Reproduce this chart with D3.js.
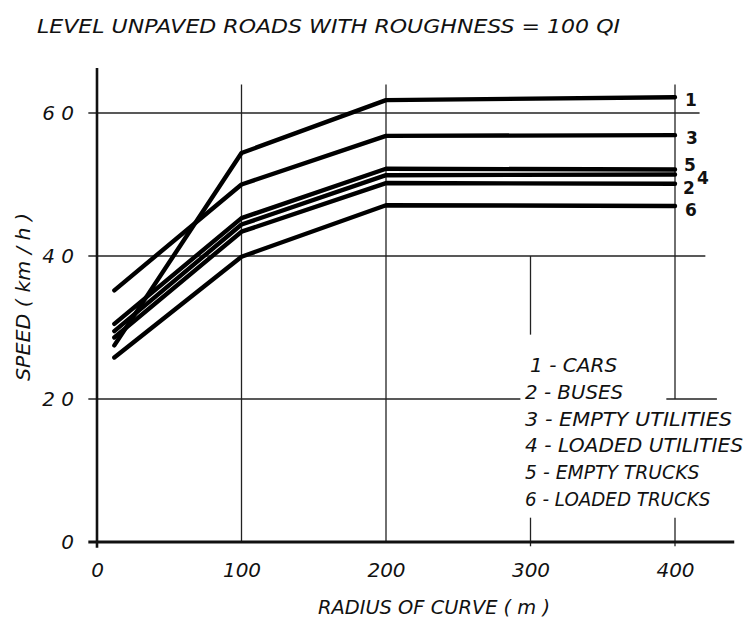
<!DOCTYPE html>
<html>
<head>
<meta charset="utf-8">
<script src="https://cdn.jsdelivr.net/npm/d3@7"></script>
<style>
  body { margin: 0; background: #fff; }
  text { font-family: "DejaVu Sans", sans-serif; fill: #111; }
</style>
</head>
<body>
<svg id="chart" width="750" height="620"></svg>
<script>
'use strict';

// radius of curve (m) where the curves were read
const radii = [12, 100, 200, 400];

// speed (km/h) per vehicle class
const cars = [27.5, 54.4, 61.8, 62.2];
const buses = [28.6, 43.4, 50.2, 50.1];
const emptyUtilities = [35.2, 50.0, 56.8, 56.9];
const loadedUtilities = [29.5, 44.4, 51.3, 51.4];
const emptyTrucks = [30.5, 45.3, 52.2, 52.1];
const loadedTrucks = [25.8, 39.9, 47.1, 47.0];

const seriesIds = ['1', '2', '3', '4', '5', '6'];
const legendLabels = ['1 - CARS', '2 - BUSES', '3 - EMPTY UTILITIES', '4 - LOADED UTILITIES', '5 - EMPTY TRUCKS', '6 - LOADED TRUCKS'];

const xTicks = [0, 100, 200, 300, 400];
const yTicks = [0, 20, 40, 60];

const series = [cars, buses, emptyUtilities, loadedUtilities, emptyTrucks, loadedTrucks];

const svg = d3.select('#chart');
const x = d3.scaleLinear().domain([0, 400]).range([97, 675]);
const y = d3.scaleLinear().domain([0, 60]).range([542, 113]);

// grid pieces, in data units: the original is hand drawn and broken by the legend
const hGrid = [
  { v: 60, from: -6, to: 417 },
  { v: 40, from: -6, to: 421 },
  { v: 20, from: -6, to: 293 },
  { v: 20, from: 394, to: 429 }
];
const vGrid = [
  { v: 100, from: 0, to: 64 },
  { v: 200, from: 0, to: 64 },
  { v: 300, from: 29, to: 40 },
  { v: 300, from: -0.6, to: 3.4 },
  { v: 400, from: 20, to: 64 },
  { v: 400, from: -0.6, to: 3.4 }
];

const grid = svg.append('g').attr('stroke', '#222').attr('stroke-width', 1.3);
grid.selectAll('.h').data(hGrid).join('line')
  .attr('x1', d => x(d.from)).attr('x2', d => x(d.to))
  .attr('y1', d => y(d.v)).attr('y2', d => y(d.v));
grid.selectAll('.v').data(vGrid).join('line')
  .attr('x1', d => x(d.v)).attr('x2', d => x(d.v))
  .attr('y1', d => y(d.from)).attr('y2', d => y(d.to));

// main axes lines
svg.append('line')
  .attr('x1', x(-6)).attr('x2', x(441)).attr('y1', y(0)).attr('y2', y(0))
  .attr('stroke', '#111').attr('stroke-width', 2.8);
svg.append('line')
  .attr('x1', x(0)).attr('x2', x(0)).attr('y1', y(-0.8)).attr('y2', y(66.3))
  .attr('stroke', '#111').attr('stroke-width', 2.6);

// tick labels through d3 axes
const xAxis = svg.append('g')
  .attr('transform', `translate(0,${y(0) + 18})`)
  .call(d3.axisBottom(x).tickValues(xTicks).tickSize(0).tickFormat(d3.format('d')));
xAxis.select('.domain').remove();
xAxis.selectAll('text')
  .attr('font-size', 20).attr('font-style', 'italic')
  .style('font-family', '"DejaVu Sans", sans-serif').attr('fill', '#111');

const yAxis = svg.append('g')
  .attr('transform', `translate(${x(0) - 20},0)`)
  .call(d3.axisLeft(y).tickValues(yTicks).tickSize(0).tickFormat(d => d === 0 ? '0' : String(d).split('').join(' ')));
yAxis.select('.domain').remove();
yAxis.selectAll('text')
  .attr('font-size', 20).attr('font-style', 'italic')
  .style('font-family', '"DejaVu Sans", sans-serif').attr('fill', '#111');

// curves
const line = d3.line().x((d, i) => x(radii[i])).y(d => y(d));
svg.append('g').selectAll('path').data(series).join('path')
  .attr('d', line)
  .attr('fill', 'none')
  .attr('stroke', '#000')
  .attr('stroke-width', 4.4)
  .attr('stroke-linejoin', 'round')
  .attr('stroke-linecap', 'round');

// curve numbers at the right end
const labelOffsets = { '1': [10, 9], '2': [8, 10], '3': [11, 9], '4': [22, 10], '5': [9, 2], '6': [10, 10] };
svg.append('g').selectAll('text').data(series).join('text')
  .attr('x', (d, i) => x(400) + labelOffsets[seriesIds[i]][0])
  .attr('y', (d, i) => y(d[d.length - 1]) + labelOffsets[seriesIds[i]][1])
  .attr('font-size', 17).attr('font-weight', 'bold')
  .text((d, i) => seriesIds[i]);

// legend
const legend = svg.append('g');
legend.selectAll('text').data(legendLabels).join('text')
  .attr('x', (d, i) => i === 0 ? 530 : 525)
  .attr('y', (d, i) => 372 + i * 26.8)
  .attr('font-size', 20).attr('font-style', 'italic')
  .attr('textLength', d => d.length * 10.9)
  .attr('lengthAdjust', 'spacingAndGlyphs')
  .text(d => d);

// titles
svg.append('text')
  .attr('x', 37).attr('y', 33)
  .attr('font-size', 20).attr('font-style', 'italic')
  .attr('textLength', 583).attr('lengthAdjust', 'spacingAndGlyphs')
  .text('LEVEL  UNPAVED  ROADS  WITH  ROUGHNESS =  100 QI');

svg.append('text')
  .attr('x', 318).attr('y', 614)
  .attr('font-size', 20).attr('font-style', 'italic')
  .attr('textLength', 232).attr('lengthAdjust', 'spacingAndGlyphs')
  .text('RADIUS OF CURVE ( m )');

svg.append('text')
  .attr('transform', 'translate(30,381) rotate(-90)')
  .attr('font-size', 20).attr('font-style', 'italic')
  .attr('textLength', 168).attr('lengthAdjust', 'spacingAndGlyphs')
  .text('SPEED ( km / h )');
</script>
</body>
</html>
